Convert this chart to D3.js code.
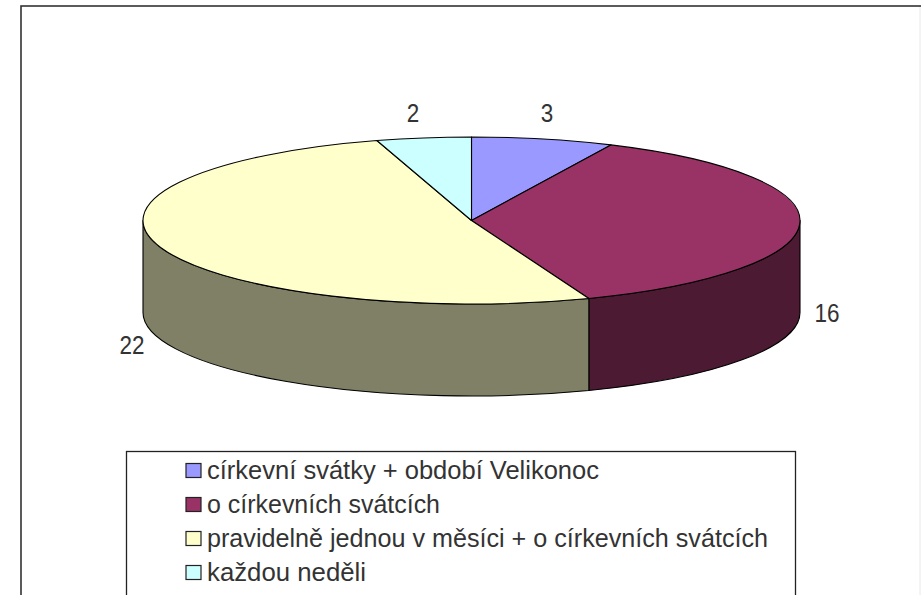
<!DOCTYPE html>
<html><head><meta charset="utf-8">
<script src="https://cdn.jsdelivr.net/npm/d3@7"></script>
<style>html,body{margin:0;padding:0;background:#fff;overflow:hidden}svg{display:block}text{font-family:"Liberation Sans",Arial,sans-serif;fill:#333}</style>
</head><body><svg id="c" width="921" height="595"></svg>
<script>
const categories=["církevní svátky + období Velikonoc","o církevních svátcích","pravidelně jednou v měsíci + o církevních svátcích","každou neděli"];
const values=[3,16,22,2];
const topColors=["#9999ff","#993366","#ffffcc","#ccffff"];
const sideColors=["#4d4d80","#4d1a33","#808066","#668080"];
const labelPos=[[547,113],[827,313],[132,345],[413,113]];

const svg=d3.select("#c");
const cx=471.5,cy=220.5,rx=328.5,ry=83.5,depth=92;
svg.append("rect").attr("x",21).attr("y",6).attr("width",940).attr("height",640).attr("fill","#fff").attr("stroke","#333").attr("stroke-width",1.6);
svg.append("line").attr("x1",920).attr("x2",920).attr("y1",7).attr("y2",595).attr("stroke","#e8e8e8");

const arcs=d3.pie().sort(null).value(d=>d)(values);
const X=a=>cx+rx*Math.sin(a),Y=a=>cy-ry*Math.cos(a);
function topPath(s,e){const large=e-s>Math.PI?1:0;
  return `M${cx},${cy}L${X(s)},${Y(s)}A${rx},${ry} 0 ${large} 1 ${X(e)},${Y(e)}Z`;}
function sidePath(s,e){
  s=Math.max(s,Math.PI/2);e=Math.min(e,Math.PI*1.5);
  if(e<=s)return null;
  return `M${X(s)},${Y(s)}A${rx},${ry} 0 0 1 ${X(e)},${Y(e)}L${X(e)},${Y(e)+depth}A${rx},${ry} 0 0 0 ${X(s)},${Y(s)+depth}Z`;}
const g=svg.append("g").attr("stroke","#000").attr("stroke-width",1.1).attr("stroke-linejoin","round");
g.selectAll("path.side").data(arcs.filter(d=>sidePath(d.startAngle,d.endAngle))).join("path").attr("class","side")
 .attr("d",d=>sidePath(d.startAngle,d.endAngle)).attr("fill",d=>sideColors[d.index]);
g.selectAll("path.top").data(arcs).join("path").attr("class","top")
 .attr("d",d=>topPath(d.startAngle,d.endAngle)).attr("fill",d=>topColors[d.index]);

svg.selectAll("text.val").data(values).join("text").attr("class","val")
 .attr("x",(d,i)=>labelPos[i][0]).attr("y",(d,i)=>labelPos[i][1]).attr("text-anchor","middle")
 .attr("dominant-baseline","central").attr("font-size",25).attr("textLength",(d)=>String(d).length*12.5).attr("lengthAdjust","spacingAndGlyphs").text(d=>d);

svg.append("rect").attr("x",126.5).attr("y",451.5).attr("width",669).attr("height",200).attr("fill","#fff").attr("stroke","#222").attr("stroke-width",1.3);
const rowY=d3.scalePoint().domain(d3.range(categories.length)).range([470,572]);
const rows=svg.selectAll("g.row").data(categories).join("g").attr("class","row").attr("transform",(d,i)=>`translate(0,${rowY(i)})`);
rows.append("rect").attr("x",186).attr("y",-6.5).attr("width",15).attr("height",14).attr("fill",(d,i)=>topColors[i]).attr("stroke","#222").attr("stroke-width",1.2);
rows.append("text").attr("x",207).attr("y",0).attr("dominant-baseline","central").attr("font-size",25).text(d=>d)
 .attr("textLength",(d,i)=>[392,233,561,159][i]).attr("lengthAdjust","spacingAndGlyphs");
</script></body></html>
